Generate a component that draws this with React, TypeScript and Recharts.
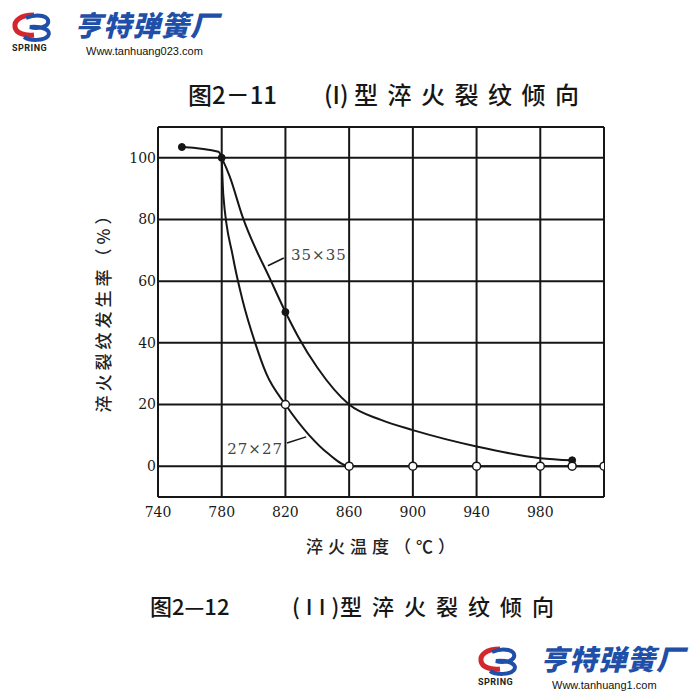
import {
  CartesianGrid,
  Line,
  LineChart,
  ReferenceDot,
  ReferenceLine,
  XAxis,
  YAxis,
} from 'recharts'

const INK = '#161616'
const BLUE = '#1f4fa8'

const X_TICKS = [740, 780, 820, 860, 900, 940, 980]
const Y_TICKS = [0, 20, 40, 60, 80, 100]

// 35x35 specimen (filled dots)
const TEMP_35 = [755, 778, 780, 785, 793, 811, 820, 828, 840, 860, 880, 900, 940, 980, 1000]
const RATE_35 = [103.5, 102, 100, 94, 81, 60, 50, 42, 32, 20, 15, 11.7, 6.4, 2.6, 1.9]
const MARK_35 = [true, false, true, false, false, false, true, false, false, false, false, false, false, false, true]

// 27x27 specimen (open dots)
const TEMP_27 = [780, 781, 787, 793, 801, 808, 820, 835, 847, 860, 900, 940, 980, 1000, 1020]
const RATE_27 = [100, 88, 68, 54, 40, 30, 20, 10, 4, 0, 0, 0, 0, 0, 0]
const MARK_27 = [false, false, false, false, false, false, true, false, false, true, true, true, true, true, true]

const series35 = TEMP_35.map((t, i) => ({ t, rate: RATE_35[i], mark: MARK_35[i] }))
const series27 = TEMP_27.map((t, i) => ({ t, rate: RATE_27[i], mark: MARK_27[i] }))

const filledDot = (p: any) =>
  p.payload.mark ? (
    <circle key={p.index} cx={p.cx} cy={p.cy} r={3.5} fill={INK} stroke={INK} />
  ) : (
    <g key={p.index} />
  )

const openDot = (p: any) =>
  p.payload.mark ? (
    <circle key={p.index} cx={p.cx} cy={p.cy} r={4} fill="#fff" stroke={INK} strokeWidth={1.5} />
  ) : (
    <g key={p.index} />
  )

function Logo({ x, y, site }: { x: number; y: number; site: string }) {
  return (
    <div style={{ position: 'absolute', left: x, top: y, width: 230, height: 56 }}>
      <svg width={50} height={48} style={{ position: 'absolute', left: 0, top: 0 }}>
        <path d="M24 9 C10 9 4 15 5 21 C6 27 14 30 24 29" fill="none" stroke="#d3262d" strokeWidth={5} />
        <path d="M16 12 C28 7 40 10 38 17 C36 22 26 23 20 21 C32 20 42 24 38 30 C34 35 20 35 14 31" fill="none" stroke={BLUE} strokeWidth={4} />
        <text x={2} y={45} fontSize={9} fontWeight={700} fontFamily="Roboto, sans-serif" fill="#222" letterSpacing={0.5}>
          SPRING
        </text>
      </svg>
      <div
        style={{
          position: 'absolute',
          left: 64,
          top: -2,
          fontFamily: '"Noto Sans CJK SC", sans-serif',
          fontWeight: 900,
          fontStyle: 'italic',
          fontSize: 28,
          color: BLUE,
          whiteSpace: 'nowrap',
          letterSpacing: 1,
        }}
      >
        亨特弹簧厂
      </div>
      <div
        style={{
          position: 'absolute',
          left: 76,
          top: 39,
          fontFamily: '"Liberation Sans", Arial, sans-serif',
          fontSize: 11,
          color: '#111',
          whiteSpace: 'nowrap',
        }}
      >
        {site}
      </div>
    </div>
  )
}

const captionStyle: React.CSSProperties = {
  position: 'absolute',
  fontFamily: '"Noto Sans CJK SC", sans-serif',
  fontWeight: 500,
  color: INK,
  whiteSpace: 'nowrap',
}

export default function App() {
  return (
    <div style={{ position: 'absolute', left: 0, top: 0, width: 700, height: 700, background: '#fff', overflow: 'hidden' }}>
      <Logo x={10} y={6} site="Www.tanhuang023.com" />
      <Logo x={476} y={640} site="Www.tanhuang1.com" />

      <div style={{ ...captionStyle, left: 188, top: 76, fontSize: 24 }}>图2－11</div>
      <div style={{ ...captionStyle, left: 324, top: 76, fontSize: 24 }}>(I)</div>
      <div style={{ ...captionStyle, left: 354, top: 76, fontSize: 24, letterSpacing: 9.5 }}>型淬火裂纹倾向</div>
      <div style={{ ...captionStyle, left: 150, top: 589, fontSize: 22 }}>图2—12</div>
      <div style={{ ...captionStyle, left: 292, top: 589, fontSize: 22, letterSpacing: 6 }}>(II)</div>
      <div style={{ ...captionStyle, left: 340, top: 589, fontSize: 22, letterSpacing: 10 }}>型淬火裂纹倾向</div>

      <div
        style={{
          position: 'absolute',
          left: 102,
          top: 308,
          transform: 'translate(-50%, -50%) rotate(-90deg)',
          fontFamily: '"Noto Sans CJK SC", sans-serif',
          fontSize: 17,
          fontWeight: 500,
          color: '#222',
          whiteSpace: 'nowrap',
          letterSpacing: 4,
        }}
      >
        淬火裂纹发生率（%）
      </div>
      <div
        style={{
          position: 'absolute',
          left: 306,
          top: 533,
          fontFamily: '"Noto Sans CJK SC", sans-serif',
          fontSize: 17,
          fontWeight: 500,
          color: '#222',
          whiteSpace: 'nowrap',
          letterSpacing: 5,
        }}
      >
        淬火温度（℃）
      </div>

      <div style={{ position: 'absolute', left: 0, top: 0 }}>
        <LineChart
          width={700}
          height={700}
          margin={{ top: 127, right: 96, bottom: 173, left: 118 }}
        >
          <CartesianGrid stroke={INK} strokeWidth={2} />
          <XAxis
            dataKey="t"
            type="number"
            domain={[740, 1020]}
            ticks={X_TICKS}
            allowDataOverflow
            height={30}
            stroke={INK}
            strokeWidth={2}
            tickLine={false}
            tickMargin={4}
            tick={{ fill: '#1a1a1a', fontSize: 14, fontFamily: '"DejaVu Serif", serif' }}
          />
          <YAxis
            type="number"
            domain={[-10, 110]}
            ticks={Y_TICKS}
            allowDataOverflow
            width={40}
            stroke={INK}
            strokeWidth={2}
            tickLine={false}
            tickMargin={-4}
            tick={{ fill: '#1a1a1a', fontSize: 14, fontFamily: '"DejaVu Serif", serif' }}
          />
          <ReferenceLine y={110} stroke={INK} strokeWidth={2} />
          <ReferenceLine x={1020} stroke={INK} strokeWidth={2} />

          <Line
            data={series35}
            dataKey="rate"
            type="monotone"
            stroke={INK}
            strokeWidth={2}
            dot={filledDot}
            activeDot={false}
            isAnimationActive={false}
          />
          <Line
            data={series27}
            dataKey="rate"
            type="monotone"
            stroke={INK}
            strokeWidth={2}
            dot={openDot}
            activeDot={false}
            isAnimationActive={false}
          />

          <ReferenceLine segment={[{ x: 809, y: 65 }, { x: 819, y: 67.5 }]} stroke={INK} strokeWidth={1.5} />
          <ReferenceDot
            x={841}
            y={68.5}
            r={0}
            label={{ value: '35×35', fill: '#444', fontSize: 15, fontFamily: '"DejaVu Serif", serif', letterSpacing: 1 }}
          />
          <ReferenceLine segment={[{ x: 821, y: 7.5 }, { x: 833, y: 9.5 }]} stroke={INK} strokeWidth={1.5} />
          <ReferenceDot
            x={801}
            y={5.8}
            r={0}
            label={{ value: '27×27', fill: '#444', fontSize: 15, fontFamily: '"DejaVu Serif", serif', letterSpacing: 1 }}
          />
        </LineChart>
      </div>
    </div>
  )
}
